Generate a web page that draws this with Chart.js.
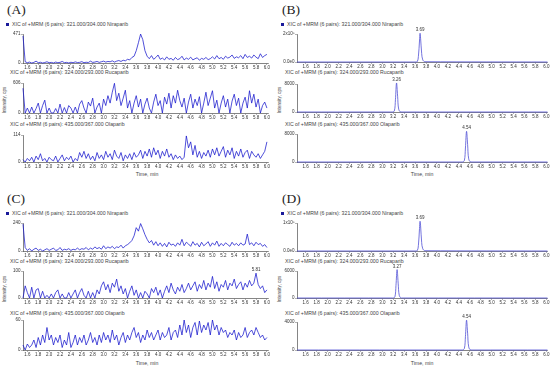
<!DOCTYPE html>
<html>
<head>
<meta charset="utf-8">
<script src="https://cdn.jsdelivr.net/npm/chart.js@4.4.1/dist/chart.umd.min.js"></script>
<style>
	body { margin: 0; background: #fff; width: 550px; height: 366px; position: relative; overflow: hidden; font-family: "Liberation Sans", Arial, sans-serif; }
	canvas { position: absolute; }
	.t { position: absolute; white-space: nowrap; color: #444; font-size: 5.2px; line-height: 5px; }
	.panel { position: absolute; font-family: "Liberation Serif", serif; font-size: 13.5px; line-height: 13px; color: #222; }
	.sq { position: absolute; width: 3px; height: 3px; background: #1a1a9a; }
	.ylab { position: absolute; white-space: nowrap; color: #444; font-size: 4.6px; line-height: 4px; transform: translate(-50%, -50%) rotate(-90deg); }
</style>
</head>
<body>
<script>
// sampling times of the noisy blank traces, min
const timeGrid = [
	1.52,1.56,1.60,1.64,1.68,1.72,1.76,1.80,1.84,1.88,
	1.92,1.96,2.00,2.04,2.08,2.12,2.16,2.20,2.24,2.28,
	2.32,2.36,2.40,2.44,2.48,2.52,2.56,2.60,2.64,2.68,
	2.72,2.76,2.80,2.84,2.88,2.92,2.96,3.00,3.04,3.08,
	3.12,3.16,3.20,3.24,3.28,3.32,3.36,3.40,3.44,3.48,
	3.52,3.56,3.60,3.64,3.68,3.72,3.76,3.80,3.84,3.88,
	3.92,3.96,4.00,4.04,4.08,4.12,4.16,4.20,4.24,4.28,
	4.32,4.36,4.40,4.44,4.48,4.52,4.56,4.60,4.64,4.68,
	4.72,4.76,4.80,4.84,4.88,4.92,4.96,5.00,5.04,5.08,
	5.12,5.16,5.20,5.24,5.28,5.32,5.36,5.40,5.44,5.48,
	5.52,5.56,5.60,5.64,5.68,5.72,5.76,5.80,5.84,5.88,
	5.92,5.96,6.00
];

// (A) blank
const niraA = [
	440,20,5,15,0,10,30,5,12,0,
	8,20,5,10,0,15,5,10,25,5,
	10,0,12,5,18,8,10,22,5,12,
	8,30,10,15,25,10,20,30,15,25,
	20,35,15,30,40,25,45,35,60,50,
	90,110,200,330,470,380,200,110,70,120,
	60,90,130,60,80,50,100,60,75,45,
	90,55,70,110,50,80,60,95,50,70,
	85,45,75,60,90,55,70,100,65,120,
	70,90,60,110,80,95,130,75,100,85,
	120,70,140,90,110,80,130,95,70,150,
	90,120,140
];
const rucaA = [
	500,0,100,0,120,0,90,200,0,150,
	260,0,100,0,0,90,0,180,0,110,
	0,150,100,0,120,0,180,250,100,0,
	220,140,300,0,120,200,0,280,150,350,
	200,420,600,250,400,150,300,460,100,250,
	0,200,350,120,280,0,180,300,100,0,
	220,380,150,250,0,320,180,400,100,350,
	200,460,250,120,300,0,220,380,100,280,
	150,330,0,200,420,150,300,450,100,260,
	0,200,350,120,280,0,240,380,150,300,
	0,200,320,100,450,200,380,120,280,0,
	150,220,100
];
const olaA = [
	10,0,15,5,20,0,25,10,35,5,
	15,0,20,10,5,25,0,15,30,5,
	20,10,25,0,15,5,40,20,45,15,
	35,10,25,5,40,15,30,10,45,20,
	35,10,50,25,15,40,5,30,15,35,
	10,40,20,30,50,15,45,25,55,20,
	60,30,50,15,45,25,55,20,35,10,
	30,15,25,10,20,110,60,85,30,70,
	20,45,15,40,25,50,20,55,30,60,
	25,45,65,20,50,30,60,15,45,25,
	55,20,40,50,15,45,30,20,35,15,
	30,45,85
];

// (C) blank
const niraC = [
	230,30,5,20,0,15,25,5,15,0,
	10,20,5,15,25,5,10,30,5,15,
	10,20,5,15,10,25,10,20,15,30,
	10,25,15,35,20,30,15,45,20,35,
	25,40,20,35,30,50,25,45,55,70,
	90,130,200,170,235,190,140,100,70,90,
	50,80,45,70,40,65,35,75,50,60,
	40,70,50,100,45,75,60,40,80,50,
	65,35,75,45,60,80,40,70,50,85,
	40,65,45,70,55,40,75,50,65,45,
	70,50,60,145,55,70,45,75,55,65,
	40,55,30
];
const rucaC = [
	0,45,20,0,40,0,30,35,0,25,
	0,10,0,15,0,20,30,0,15,0,
	0,20,0,15,30,0,20,35,10,0,
	25,0,20,0,30,15,45,60,30,50,
	20,55,40,70,25,45,15,35,0,25,
	45,10,30,0,20,0,25,15,0,35,
	20,40,10,30,0,25,45,20,55,30,
	15,40,25,50,20,35,55,30,45,60,
	25,50,35,65,30,55,40,80,35,60,
	25,50,40,65,30,55,45,70,35,50,
	60,30,55,40,65,45,55,92,50,35,
	45,20,30
];
const olaC = [
	10,0,12,5,10,20,5,25,10,30,
	15,45,20,30,10,25,15,30,5,20,
	10,35,5,15,30,10,25,15,30,10,
	20,35,15,25,10,30,15,35,20,30,
	15,40,20,30,10,25,35,15,30,20,
	35,45,25,35,15,30,20,40,25,35,
	20,30,40,20,35,25,30,45,20,35,
	40,25,50,30,60,35,50,25,45,55,
	30,58,35,50,40,55,30,60,40,50,
	30,45,35,40,25,35,30,40,20,35,
	25,30,45,25,35,40,30,45,35,25,
	30,20,25
];

// (B) spiked standards
const niraB_t = [1.44,3.60,3.64,3.66,3.68,3.69,3.70,3.72,3.74,3.78,6.02];
const niraB_y = [0,0,3000,40000,150000,205000,170000,60000,15000,2000,0];
const rucaB_t = [1.44,3.18,3.22,3.24,3.26,3.28,3.30,3.34,6.02];
const rucaB_y = [0,0,300,3500,8290,4500,800,0,0];
const olaB_t = [1.44,4.46,4.50,4.52,4.54,4.56,4.58,4.62,6.02];
const olaB_y = [0,0,400,4000,8750,5000,900,0,0];

// (D) spiked samples
const niraD_t = [1.44,3.60,3.64,3.66,3.68,3.69,3.70,3.72,3.74,3.78,6.02];
const niraD_y = [0,0,1500,20000,80000,106000,90000,30000,8000,1000,0];
const rucaD_t = [1.44,3.19,3.23,3.25,3.27,3.29,3.31,3.35,6.02];
const rucaD_y = [0,0,250,2800,6310,3300,600,0,0];
const olaD_t = [1.44,4.46,4.50,4.52,4.54,4.56,4.58,4.62,6.02];
const olaD_y = [0,0,200,1900,4260,2400,450,0,0];

const xTicks = [1.6,1.8,2.0,2.2,2.4,2.6,2.8,3.0,3.2,3.4,3.6,3.8,4.0,4.2,4.4,4.6,4.8,5.0,5.2,5.4,5.6,5.8,6.0];

const panelNames = ['(A)', '(B)', '(C)', '(D)'];
const xicTitles = [
	'XIC of +MRM (6 pairs): 321.000/304.000 Niraparib',
	'XIC of +MRM (6 pairs): 324.000/293.000 Rucaparib',
	'XIC of +MRM (6 pairs): 435.000/367.000 Olaparib'
];

// layout of the two columns and four panels
const cols = [
	{ left: 0, width: 272, axisW: 23, padR: 4, xmin: 1.52, xmax: 6.02 },
	{ left: 275, width: 275, axisW: 22, padR: 1, xmin: 1.44, xmax: 6.02 }
];
const panels = [
	{ col: 0, x: 0, y: 0 }, { col: 1, x: 275, y: 0 },
	{ col: 0, x: 0, y: 189 }, { col: 1, x: 275, y: 189 }
];

const TOP_PAD = 12, X_AXIS_H = 10;

function pairs(t, v) {
	let out = [];
	for (let i = 0; i < Math.min(t.length, v.length); i++) out.push({ x: t[i], y: v[i] });
	return out;
}

const traces = [
	{ p: 0, data: pairs(timeGrid, niraA), tick: 471, tickText: '471', zero: '0', top: 34, base: 63 },
	{ p: 0, data: pairs(timeGrid, rucaA), tick: 606, tickText: '606', zero: '0', top: 83, base: 113 },
	{ p: 0, data: pairs(timeGrid, olaA), tick: 114, tickText: '114', zero: '0', top: 135, base: 162 },

	{ p: 1, data: pairs(niraB_t, niraB_y), tick: 200000, tickText: '2x10⁵', zero: '0.0e0', top: 33.5, base: 62, peak: '3.69', smooth: true },
	{ p: 1, data: pairs(rucaB_t, rucaB_y), tick: 8000, tickText: '8000', zero: '0', top: 84, base: 112, peak: '3.26', smooth: true },
	{ p: 1, data: pairs(olaB_t, olaB_y), tick: 8000, tickText: '8000', zero: '0', top: 134, base: 162, peak: '4.54', smooth: true },

	{ p: 2, data: pairs(timeGrid, niraC), tick: 240, tickText: '240', zero: '0', top: 223, base: 251 },
	{ p: 2, data: pairs(timeGrid, rucaC), tick: 100, tickText: '100', zero: '0', top: 271, base: 298, peak: '5.81' },
	{ p: 2, data: pairs(timeGrid, olaC), tick: 60, tickText: '60', zero: '0', top: 320, base: 350 },

	{ p: 3, data: pairs(niraD_t, niraD_y), tick: 100000, tickText: '1x10⁵', zero: '0.0e0', top: 223, base: 251, peak: '3.69', smooth: true },
	{ p: 3, data: pairs(rucaD_t, rucaD_y), tick: 6000, tickText: '6000', zero: '0', top: 271, base: 298, peak: '3.27', smooth: true },
	{ p: 3, data: pairs(olaD_t, olaD_y), tick: 4000, tickText: '4000', zero: '0', top: 322, base: 350, peak: '4.54', smooth: true }
];

// writes the retention time above the highest point of the trace
const peakLabel = {
	id: 'peakLabel',
	afterDatasetsDraw(chart, args, opts) {
		if (!opts.text) return;
		let data = chart.data.datasets[0].data;
		let best = 0;
		for (let i = 0; i < data.length; i++) {
			if (data[i].y > data[best].y) best = i;
		}
		let pt = chart.getDatasetMeta(0).data[best];
		let ctx = chart.ctx;
		ctx.save();
		ctx.font = '4.5px "Liberation Sans", Arial, sans-serif';
		ctx.fillStyle = '#333';
		ctx.textAlign = 'center';
		ctx.textBaseline = 'bottom';
		ctx.fillText(opts.text, pt.x, pt.y - 1);
		ctx.restore();
	}
};

function addText(cls, txt, x, y) {
	let d = document.createElement('div');
	d.className = cls;
	d.textContent = txt;
	d.style.left = x + 'px';
	d.style.top = y + 'px';
	document.body.appendChild(d);
	return d;
}

panels.forEach(function (pn, i) {
	addText('panel', panelNames[i], pn.x + 7, pn.y + 3);
	let sq = document.createElement('div');
	sq.className = 'sq';
	sq.style.left = (pn.x + 6) + 'px';
	sq.style.top = (pn.y + 22.5) + 'px';
	document.body.appendChild(sq);
	addText('t', xicTitles[0], pn.x + 12, pn.y + 21.5);
	addText('t', xicTitles[1], pn.x + 10, pn.y + 69.5);
	addText('t', xicTitles[2], pn.x + 10, pn.y + 121.5);
	let tm = addText('t', 'Time, min', pn.x + 147, pn.y + 171.5);
	tm.style.transform = 'translateX(-50%)';
	addText('ylab', 'Intensity, cps', pn.x + 5, pn.y + 100);
});

traces.forEach(function (tr) {
	let col = cols[panels[tr.p].col];
	let areaH = tr.base - tr.top;
	let cv = document.createElement('canvas');
	cv.width = col.width;
	cv.height = TOP_PAD + areaH + X_AXIS_H;
	cv.style.left = col.left + 'px';
	cv.style.top = (tr.top - TOP_PAD) + 'px';
	cv.style.width = cv.width + 'px';
	cv.style.height = cv.height + 'px';
	document.body.appendChild(cv);

	new Chart(cv, {
		type: 'line',
		data: {
			datasets: [{
				data: tr.data,
				borderColor: tr.smooth ? '#5050d6' : '#1616cc',
				borderWidth: tr.smooth ? 0.8 : 0.75,
				pointRadius: 0,
				tension: tr.smooth ? 0.35 : 0,
				clip: false
			}]
		},
		options: {
			responsive: false,
			animation: false,
			devicePixelRatio: 1,
			events: [],
			layout: { padding: { top: TOP_PAD, right: col.padR, left: 0, bottom: 0 } },
			plugins: {
				legend: { display: false },
				tooltip: { enabled: false },
				peakLabel: { text: tr.peak }
			},
			scales: {
				x: {
					type: 'linear',
					min: col.xmin,
					max: col.xmax,
					afterBuildTicks: function (s) { s.ticks = xTicks.map(v => ({ value: v })); },
					afterFit: function (s) { s.height = X_AXIS_H; },
					ticks: {
						autoSkip: false,
						maxRotation: 0,
						padding: 0.5,
						color: '#333',
						font: { size: 4.5, family: '"Liberation Sans", Arial, sans-serif' },
						callback: v => Number(v).toFixed(1)
					},
					grid: { display: true, drawOnChartArea: false, tickLength: 2, color: '#666', lineWidth: 0.5 },
					border: { display: true, color: '#333', width: 0.6 }
				},
				y: {
					min: 0,
					max: tr.tick,
					afterBuildTicks: function (s) { s.ticks = [{ value: 0 }, { value: tr.tick }]; },
					afterFit: function (s) { s.width = col.axisW; },
					ticks: {
						padding: 0.5,
						color: '#333',
						font: { size: 4.5, family: '"Liberation Sans", Arial, sans-serif' },
						callback: v => (v === 0 ? tr.zero : tr.tickText)
					},
					grid: { display: true, drawOnChartArea: false, tickLength: 2, color: '#666', lineWidth: 0.5 },
					border: { display: true, color: '#333', width: 0.6 }
				}
			}
		},
		plugins: [peakLabel]
	});
});
</script>
</body>
</html>
